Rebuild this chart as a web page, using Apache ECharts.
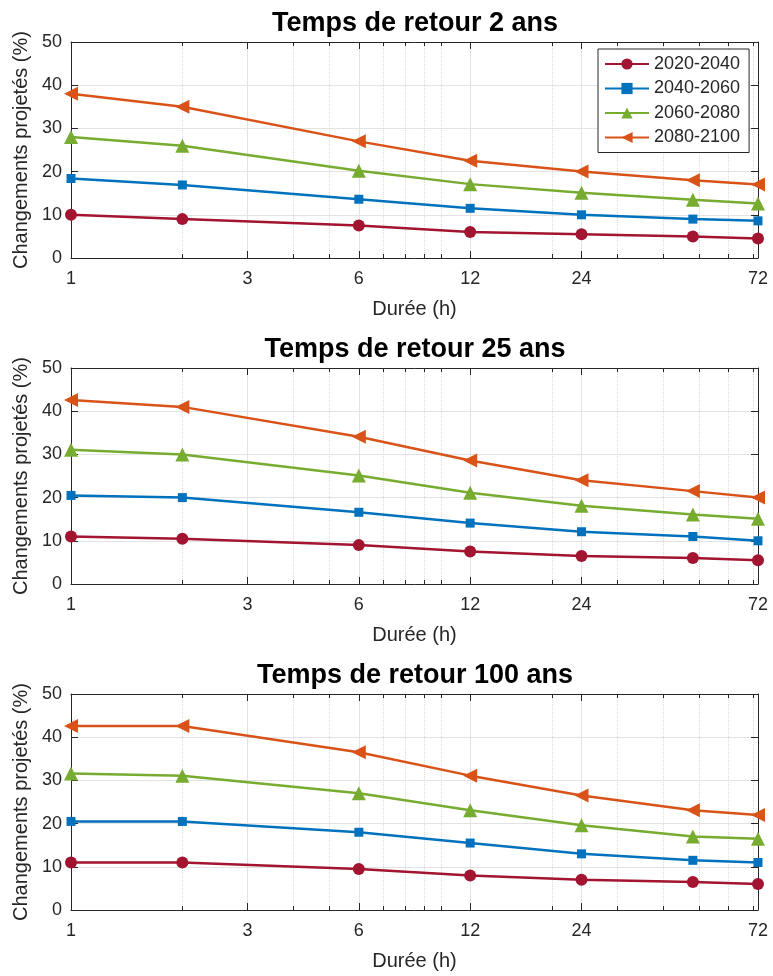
<!DOCTYPE html>
<html>
<head>
<meta charset="utf-8">
<script src="https://cdn.jsdelivr.net/npm/echarts@6/dist/echarts.min.js"></script>
<style>
  html, body { margin: 0; padding: 0; background: #fff; }
  #chart { width: 773px; height: 976px; }
</style>
</head>
<body>
<div id="chart"></div>
<script>
// durations (h) on a log axis
const durations = [1, 2, 6, 12, 24, 48, 72];
const periods = ['2020-2040', '2040-2060', '2060-2080', '2080-2100'];
const panelTitles = ['Temps de retour 2 ans', 'Temps de retour 25 ans', 'Temps de retour 100 ans'];
const xTicks = [1, 3, 6, 12, 24, 72];
const xMinorTicks = [2, 4, 5, 7, 8, 9, 10, 20, 30, 40, 50, 60, 70];

// Temps de retour 2 ans
const t2_p1 = [10.0, 9.0, 7.5, 6.0, 5.5, 5.0, 4.5];
const t2_p2 = [18.4, 16.9, 13.6, 11.5, 10.0, 9.0, 8.6];
const t2_p3 = [28.0, 26.0, 20.2, 17.1, 15.1, 13.5, 12.6];
const t2_p4 = [38.0, 35.0, 27.0, 22.5, 20.0, 18.0, 17.0];
// Temps de retour 25 ans
const t25_p1 = [11.0, 10.5, 9.0, 7.5, 6.5, 6.0, 5.5];
const t25_p2 = [20.5, 20.0, 16.6, 14.1, 12.1, 11.0, 10.0];
const t25_p3 = [31.1, 30.0, 25.1, 21.1, 18.1, 16.1, 15.1];
const t25_p4 = [42.6, 41.0, 34.1, 28.6, 24.0, 21.5, 20.0];
// Temps de retour 100 ans
const t100_p1 = [11.0, 11.0, 9.5, 8.0, 7.0, 6.5, 6.0];
const t100_p2 = [20.5, 20.5, 18.0, 15.5, 13.0, 11.5, 11.0];
const t100_p3 = [31.6, 31.1, 27.0, 23.1, 19.6, 17.0, 16.5];
const t100_p4 = [42.6, 42.6, 36.5, 31.1, 26.5, 23.1, 22.0];

const panelValues = [
  [t2_p1, t2_p2, t2_p3, t2_p4],
  [t25_p1, t25_p2, t25_p3, t25_p4],
  [t100_p1, t100_p2, t100_p3, t100_p4]
];

const colors = ['#A2142F', '#0072BD', '#77AC30', '#D95319'];
const markers = [
  { symbol: 'circle', size: 12, rotate: 0 },
  { symbol: 'rect', size: 9, rotate: 0 },
  { symbol: 'triangle', size: 14, rotate: 0 },
  { symbol: 'triangle', size: 14, rotate: 90 }
];

const FONT = 'Liberation Sans, Arial, sans-serif';
const INK = '#262626';
const GRID_MAJOR = '#e3e3e3';
const GRID_MINOR = '#d9d9d9';
const gridTops = [42, 368, 694];
const PLOT_H = 216;
const PLOT_LEFT = 71;
const PLOT_RIGHT = 15;

const titles = [], grids = [], xAxes = [], yAxes = [], series = [];

panelTitles.forEach((t, i) => {
  const top = gridTops[i];
  titles.push({
    text: t, left: 415, top: top - 32, textAlign: 'center', padding: 0,
    textStyle: { fontFamily: FONT, fontSize: 27, fontWeight: 'bold', color: '#000' }
  });
  grids.push({ left: PLOT_LEFT, right: PLOT_RIGHT, top: top, height: PLOT_H, containLabel: false });

  const logBase = { gridIndex: i, type: 'log', logBase: 10, min: 1, max: 72 };
  // bottom, major ticks + labels + solid grid
  xAxes.push(Object.assign({}, logBase, {
    position: 'bottom',
    axisLine: { show: true, onZero: false, lineStyle: { color: INK, width: 1 } },
    axisTick: { show: true, inside: true, length: 7, customValues: xTicks, lineStyle: { color: INK } },
    axisLabel: {
      customValues: xTicks, formatter: v => String(Math.round(v)),
      color: INK, fontSize: 18, fontFamily: FONT, margin: 12
    },
    splitLine: { show: true, lineStyle: { color: GRID_MAJOR, width: 1 } },
    minorTick: { show: false }, minorSplitLine: { show: false },
    name: 'Durée (h)', nameLocation: 'middle', nameGap: 41,
    nameTextStyle: { color: INK, fontSize: 20, fontFamily: FONT }
  }));
  // bottom, minor ticks + dotted grid
  xAxes.push(Object.assign({}, logBase, {
    position: 'bottom',
    axisLine: { show: false, onZero: false },
    axisTick: { show: true, inside: true, length: 4, customValues: xMinorTicks, lineStyle: { color: INK } },
    axisLabel: { show: false },
    splitLine: { show: true, lineStyle: { color: GRID_MINOR, width: 1, type: 'dotted' } }
  }));
  // top box edge, major ticks
  xAxes.push(Object.assign({}, logBase, {
    position: 'top',
    axisLine: { show: true, onZero: false, lineStyle: { color: INK, width: 1 } },
    axisTick: { show: true, inside: true, length: 7, customValues: xTicks, lineStyle: { color: INK } },
    axisLabel: { show: false },
    splitLine: { show: false }
  }));
  // top, minor ticks
  xAxes.push(Object.assign({}, logBase, {
    position: 'top',
    axisLine: { show: false, onZero: false },
    axisTick: { show: true, inside: true, length: 4, customValues: xMinorTicks, lineStyle: { color: INK } },
    axisLabel: { show: false },
    splitLine: { show: false }
  }));

  yAxes.push({
    gridIndex: i, type: 'value', min: 0, max: 50, interval: 10, position: 'left',
    axisLine: { show: true, onZero: false, lineStyle: { color: INK, width: 1 } },
    axisTick: { show: true, inside: true, length: 7, lineStyle: { color: INK } },
    axisLabel: { color: INK, fontSize: 18, fontFamily: FONT, margin: 9 },
    splitLine: { show: true, lineStyle: { color: GRID_MAJOR, width: 1 } },
    name: 'Changements projetés (%)', nameLocation: 'middle', nameRotate: 90, nameGap: 37,
    nameTextStyle: { color: INK, fontSize: 20, fontFamily: FONT }
  });
  yAxes.push({
    gridIndex: i, type: 'value', min: 0, max: 50, interval: 10, position: 'right',
    axisLine: { show: true, onZero: false, lineStyle: { color: INK, width: 1 } },
    axisTick: { show: true, inside: true, length: 7, lineStyle: { color: INK } },
    axisLabel: { show: false },
    splitLine: { show: false }
  });

  panelValues[i].forEach((vals, k) => {
    series.push({
      name: periods[k], type: 'line',
      xAxisIndex: 4 * i, yAxisIndex: 2 * i,
      data: durations.map((d, j) => [d, vals[j]]),
      symbol: markers[k].symbol, symbolSize: markers[k].size, symbolRotate: markers[k].rotate,
      showAllSymbol: true,
      lineStyle: { color: colors[k], width: 2.5 },
      itemStyle: { color: colors[k] },
      emphasis: { disabled: true },
      z: 3 + k
    });
  });
});

const chart = echarts.init(document.getElementById('chart'), null, { renderer: 'canvas' });
chart.setOption({
  animation: false,
  backgroundColor: '#fff',
  title: titles,
  grid: grids,
  xAxis: xAxes,
  yAxis: yAxes,
  legend: {
    data: periods, orient: 'vertical', left: 598, top: 49,
    padding: [6, 9, 6, 6], itemGap: 6.5, itemWidth: 44, itemHeight: 14,
    backgroundColor: '#fff', borderColor: INK, borderWidth: 1, borderRadius: 0,
    textStyle: { color: INK, fontSize: 18, fontFamily: FONT, lineHeight: 18 },
    z: 10
  },
  series: series
});
</script>
</body>
</html>
